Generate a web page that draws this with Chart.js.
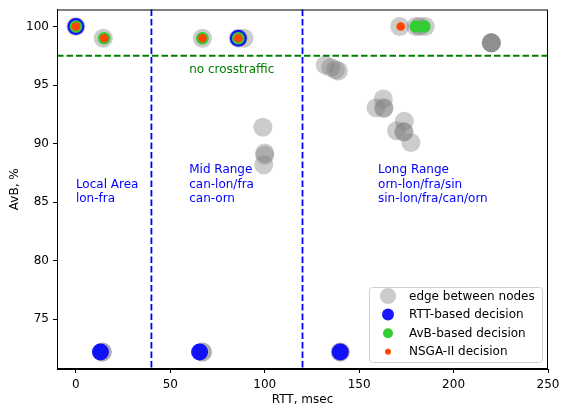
<!DOCTYPE html>
<html>
<head>
<meta charset="utf-8">
<script src="https://cdn.jsdelivr.net/npm/chart.js@4/dist/chart.umd.min.js"></script>
<style>
  html, body { margin: 0; padding: 0; background: #fff; }
  #wrap { width: 561px; height: 408px; }
</style>
</head>
<body>
<div id="wrap"><canvas id="c" width="561" height="408"></canvas></div>
<script>
// edges between nodes (RTT msec, AvB %)
const edgeX = [0, 14.5, 67, 86, 89, 171.5, 180, 182, 185,
               220, 220, 220, 220,
               132, 135, 137.5, 139,
               162.8, 158.9, 163.2, 163,
               173.9, 169.8, 173.7, 173.7, 177.4,
               99, 100, 100, 99.5,
               14, 14, 67, 67, 140, 140];
const edgeY = [100, 99, 99, 99, 99, 100, 100, 100, 100,
               98.6, 98.6, 98.6, 98.6,
               96.7, 96.5, 96.3, 96.2,
               93.8, 93.05, 93.05, 93.0,
               91.9, 91.1, 91.0, 91.0, 90.1,
               91.4, 89.2, 89.0, 88.2,
               72.2, 72.2, 72.2, 72.2, 72.2, 72.2];

// RTT-based decision
const rttX = [0, 86, 13, 65.5, 140];
const rttY = [100, 99, 72.2, 72.2, 72.2];

// AvB-based decision
const avbX = [0, 15, 67, 86, 180, 184.5];
const avbY = [100, 99, 99, 99, 100, 100];

// NSGA-II decision
const nsgaX = [0, 15, 67, 86, 172];
const nsgaY = [100, 99, 99, 99, 100];

const xTicks = [0, 50, 100, 150, 200, 250];
const yTicks = [75, 80, 85, 90, 95, 100];

const rangeBounds = [40, 120];     // vertical dashed lines
const crossThreshold = 97.5;       // horizontal dashed line

const toPts = (xs, ys) => xs.map((x, i) => ({ x: x, y: ys[i] }));

const FONT = 'DejaVu Sans';

const notes = [
  { x: 0,   y: 85, lines: ['Local Area', 'lon-fra'], color: '#0000ff' },
  { x: 60,  y: 85, lines: ['Mid Range', 'can-lon/fra', 'can-orn'], color: '#0000ff' },
  { x: 160, y: 85, lines: ['Long Range', 'orn-lon/fra/sin', 'sin-lon/fra/can/orn'], color: '#0000ff' },
  { x: 60,  y: 96, lines: ['no crosstraffic'], color: '#008000' }
];

const decor = {
  id: 'decor',
  afterDatasetsDraw(chart) {
    const ctx = chart.ctx;
    const xs = chart.scales.x, ys = chart.scales.y;
    const a = chart.chartArea;
    ctx.save();
    // dashed reference lines
    ctx.lineWidth = 1.8;
    ctx.setLineDash([6.5, 3]);
    ctx.strokeStyle = '#0000ff';
    rangeBounds.forEach(v => {
      const px = xs.getPixelForValue(v);
      ctx.beginPath(); ctx.moveTo(px, a.top); ctx.lineTo(px, a.bottom); ctx.stroke();
    });
    ctx.strokeStyle = '#008000';
    const py = ys.getPixelForValue(crossThreshold);
    ctx.beginPath(); ctx.moveTo(a.left, py); ctx.lineTo(a.right, py); ctx.stroke();
    ctx.setLineDash([]);

    // annotations (anchor = baseline of last line)
    ctx.font = '12px "' + FONT + '"';
    ctx.textAlign = 'left';
    ctx.textBaseline = 'alphabetic';
    notes.forEach(n => {
      const px = xs.getPixelForValue(n.x);
      const pb = ys.getPixelForValue(n.y);
      ctx.fillStyle = n.color;
      n.lines.forEach((t, i) => {
        ctx.fillText(t, px, pb - (n.lines.length - 1 - i) * 14.6);
      });
    });

    // frame
    ctx.strokeStyle = '#000';
    ctx.lineWidth = 1;
    ctx.strokeRect(a.left + 0.5, a.top + 0.5, a.right - a.left - 1, a.bottom - a.top - 1);

    // legend
    const lx = 369, ly = 287, lw = 173, lh = 75;
    ctx.beginPath();
    ctx.roundRect(lx + 0.5, ly + 0.5, lw, lh, 3);
    ctx.fillStyle = 'rgba(255,255,255,0.85)';
    ctx.fill();
    ctx.strokeStyle = '#d0d0d0';
    ctx.stroke();
    const order = [3, 0, 1, 2];
    const radii = [8, 6, 5, 3];
    const legendColors = ['#cccccc', null, null, null];
    order.forEach((di, i) => {
      const ds = chart.data.datasets[di];
      const cy = 296 + i * 18.6;
      ctx.beginPath();
      ctx.arc(388, cy, radii[i], 0, Math.PI * 2);
      ctx.fillStyle = legendColors[i] || ds.backgroundColor;
      ctx.fill();
      ctx.fillStyle = '#000';
      ctx.textBaseline = 'middle';
      ctx.fillText(ds.label, 409, cy + 0.5);
    });
    ctx.restore();
  }
};

new Chart(document.getElementById('c'), {
  type: 'scatter',
  data: {
    datasets: [
      {
        label: 'RTT-based decision',
        data: toPts(rttX, rttY),
        backgroundColor: 'rgba(0,0,255,0.9)',
        borderWidth: 0,
        pointRadius: 8.5,
        order: 3
      },
      {
        label: 'AvB-based decision',
        data: toPts(avbX, avbY),
        backgroundColor: 'rgb(50,205,50)',
        borderWidth: 0,
        pointRadius: 6.3,
        order: 2
      },
      {
        label: 'NSGA-II decision',
        data: toPts(nsgaX, nsgaY),
        backgroundColor: 'rgb(255,69,0)',
        borderWidth: 0,
        pointRadius: 4.3,
        order: 1
      },
      {
        label: 'edge between nodes',
        data: toPts(edgeX, edgeY),
        backgroundColor: 'rgba(128,128,128,0.4)',
        borderWidth: 0,
        pointRadius: 9.5,
        order: 4
      }
    ]
  },
  options: {
    responsive: false,
    animation: false,
    layout: { padding: { top: 8, right: 13, left: 0, bottom: 0 } },
    plugins: {
      legend: { display: false },
      tooltip: { enabled: false }
    },
    elements: { point: { hoverRadius: 0 } },
    scales: {
      x: {
        type: 'linear',
        min: -10,
        max: 250,
        afterBuildTicks: s => { s.ticks = xTicks.map(v => ({ value: v })); },
        afterFit: s => { s.height = 39; s.paddingLeft = 0; s.paddingRight = 0; },
        grid: { drawOnChartArea: false, drawTicks: true, tickLength: 4, tickColor: '#000', color: '#000' },
        border: { color: '#000', width: 1 },
        ticks: { color: '#000', font: { family: FONT, size: 12 }, padding: 5, maxRotation: 0, autoSkip: false },
        title: { display: true, text: 'RTT, msec', color: '#000', font: { family: FONT, size: 12 }, padding: { top: 0, bottom: 1 } }
      },
      y: {
        type: 'linear',
        min: 70.75,
        max: 101.45,
        afterBuildTicks: s => { s.ticks = yTicks.map(v => ({ value: v })); },
        afterFit: s => { s.width = 57; s.paddingTop = 0; s.paddingBottom = 0; },
        grid: { drawOnChartArea: false, drawTicks: true, tickLength: 4, tickColor: '#000', color: '#000' },
        border: { color: '#000', width: 1 },
        ticks: { color: '#000', font: { family: FONT, size: 12 }, padding: 4, autoSkip: false },
        title: { display: true, text: 'AvB, %', color: '#000', font: { family: FONT, size: 12 }, padding: { top: 8, bottom: 0 } }
      }
    }
  },
  plugins: [decor]
});
</script>
</body>
</html>
